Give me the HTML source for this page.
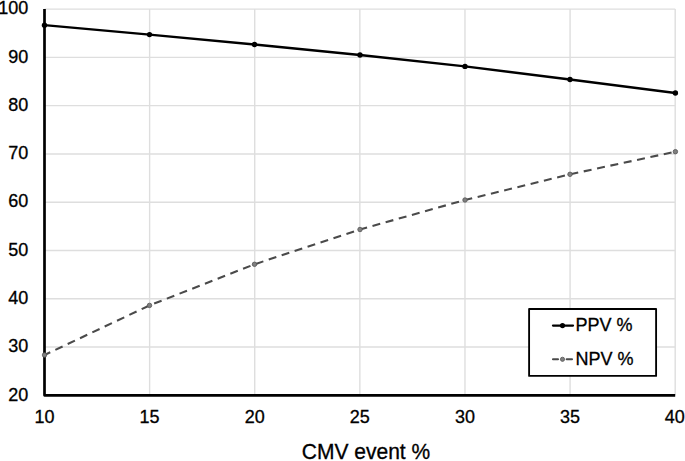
<!DOCTYPE html>
<html><head><meta charset="utf-8"><style>
html,body{margin:0;padding:0;background:#fff;}
body{width:685px;height:461px;overflow:hidden;}
svg{display:block;font-family:"Liberation Sans",sans-serif;}
</style></head><body>
<svg width="685" height="461" viewBox="0 0 685 461">
<rect width="685" height="461" fill="#fff"/>
<g stroke="#dedede" stroke-width="1.4" fill="none"><line x1="44.50" y1="347.03" x2="675.20" y2="347.03"/><line x1="44.50" y1="298.75" x2="675.20" y2="298.75"/><line x1="44.50" y1="250.48" x2="675.20" y2="250.48"/><line x1="44.50" y1="202.20" x2="675.20" y2="202.20"/><line x1="44.50" y1="153.93" x2="675.20" y2="153.93"/><line x1="44.50" y1="105.65" x2="675.20" y2="105.65"/><line x1="44.50" y1="57.38" x2="675.20" y2="57.38"/><line x1="44.50" y1="9.10" x2="675.20" y2="9.10"/><line x1="149.62" y1="9.10" x2="149.62" y2="395.30"/><line x1="254.73" y1="9.10" x2="254.73" y2="395.30"/><line x1="359.85" y1="9.10" x2="359.85" y2="395.30"/><line x1="464.97" y1="9.10" x2="464.97" y2="395.30"/><line x1="570.08" y1="9.10" x2="570.08" y2="395.30"/><line x1="675.20" y1="9.10" x2="675.20" y2="395.30"/></g>
<path d="M44.50,9.10 V395.30 H675.20" fill="none" stroke="#000" stroke-width="2.7" stroke-linejoin="round"/>
<polyline points="44.5,355 149.5,305.4 254.5,264.3 360,229.5 465,200 570,174.3 675.4,151.7" fill="none" stroke="#4a4a4a" stroke-width="2.1" stroke-dasharray="8.0 5.6385" stroke-dashoffset="1.64"/>
<g fill="#7f7f7f" stroke="#555" stroke-width="0.8"><circle cx="44.5" cy="355" r="2.25"/><circle cx="149.5" cy="305.4" r="2.25"/><circle cx="254.5" cy="264.3" r="2.25"/><circle cx="360" cy="229.5" r="2.25"/><circle cx="465" cy="200" r="2.25"/><circle cx="570" cy="174.3" r="2.25"/><circle cx="675.4" cy="151.7" r="2.25"/></g>
<polyline points="44.5,25.2 149.5,34.6 254.5,44.5 360,55 465,66.4 570,79.5 675.4,93" fill="none" stroke="#000" stroke-width="2.3" stroke-linejoin="round"/>
<g fill="#000"><circle cx="44.5" cy="25.2" r="2.7"/><circle cx="149.5" cy="34.6" r="2.7"/><circle cx="254.5" cy="44.5" r="2.7"/><circle cx="360" cy="55" r="2.7"/><circle cx="465" cy="66.4" r="2.7"/><circle cx="570" cy="79.5" r="2.7"/><circle cx="675.4" cy="93" r="2.7"/></g>
<g font-size="18" fill="#000" stroke="#000" stroke-width="0.3"><text transform="translate(28.3 400.50) scale(1 1.06)" text-anchor="end">20</text><text transform="translate(28.3 352.23) scale(1 1.06)" text-anchor="end">30</text><text transform="translate(28.3 303.95) scale(1 1.06)" text-anchor="end">40</text><text transform="translate(28.3 255.68) scale(1 1.06)" text-anchor="end">50</text><text transform="translate(28.3 207.40) scale(1 1.06)" text-anchor="end">60</text><text transform="translate(28.3 159.12) scale(1 1.06)" text-anchor="end">70</text><text transform="translate(28.3 110.85) scale(1 1.06)" text-anchor="end">80</text><text transform="translate(28.3 62.58) scale(1 1.06)" text-anchor="end">90</text><text transform="translate(28.3 14.30) scale(1 1.06)" text-anchor="end">100</text><text transform="translate(44.50 422.5) scale(1 1.05)" text-anchor="middle">10</text><text transform="translate(149.62 422.5) scale(1 1.05)" text-anchor="middle">15</text><text transform="translate(254.73 422.5) scale(1 1.05)" text-anchor="middle">20</text><text transform="translate(359.85 422.5) scale(1 1.05)" text-anchor="middle">25</text><text transform="translate(464.97 422.5) scale(1 1.05)" text-anchor="middle">30</text><text transform="translate(570.08 422.5) scale(1 1.05)" text-anchor="middle">35</text><text transform="translate(674.70 422.5) scale(1 1.05)" text-anchor="middle">40</text></g>
<text transform="translate(366 458.6) scale(1 1.08)" text-anchor="middle" font-size="21" fill="#000" stroke="#000" stroke-width="0.3">CMV event %</text>
<rect x="529.1" y="309.0" width="127.0" height="66.9" fill="#fff" stroke="#000" stroke-width="1.85" stroke-linejoin="round"/>
<line x1="553" y1="325.6" x2="573" y2="325.6" stroke="#000" stroke-width="2.3" stroke-linecap="round"/>
<circle cx="562.5" cy="325.6" r="2.6" fill="#000"/>
<path d="M553,359.3 H558 M566.7,359.3 H572" stroke="#4a4a4a" stroke-width="2.1" stroke-linecap="round" fill="none"/>
<circle cx="562.5" cy="359.3" r="2.1" fill="#7f7f7f" stroke="#555" stroke-width="0.8"/>
<g font-size="18" fill="#000" stroke="#000" stroke-width="0.3"><text transform="translate(575.5 331.0) scale(1 1.03)">PPV %</text><text transform="translate(575.5 364.7) scale(1 1.03)">NPV %</text></g>
</svg>
</body></html>
